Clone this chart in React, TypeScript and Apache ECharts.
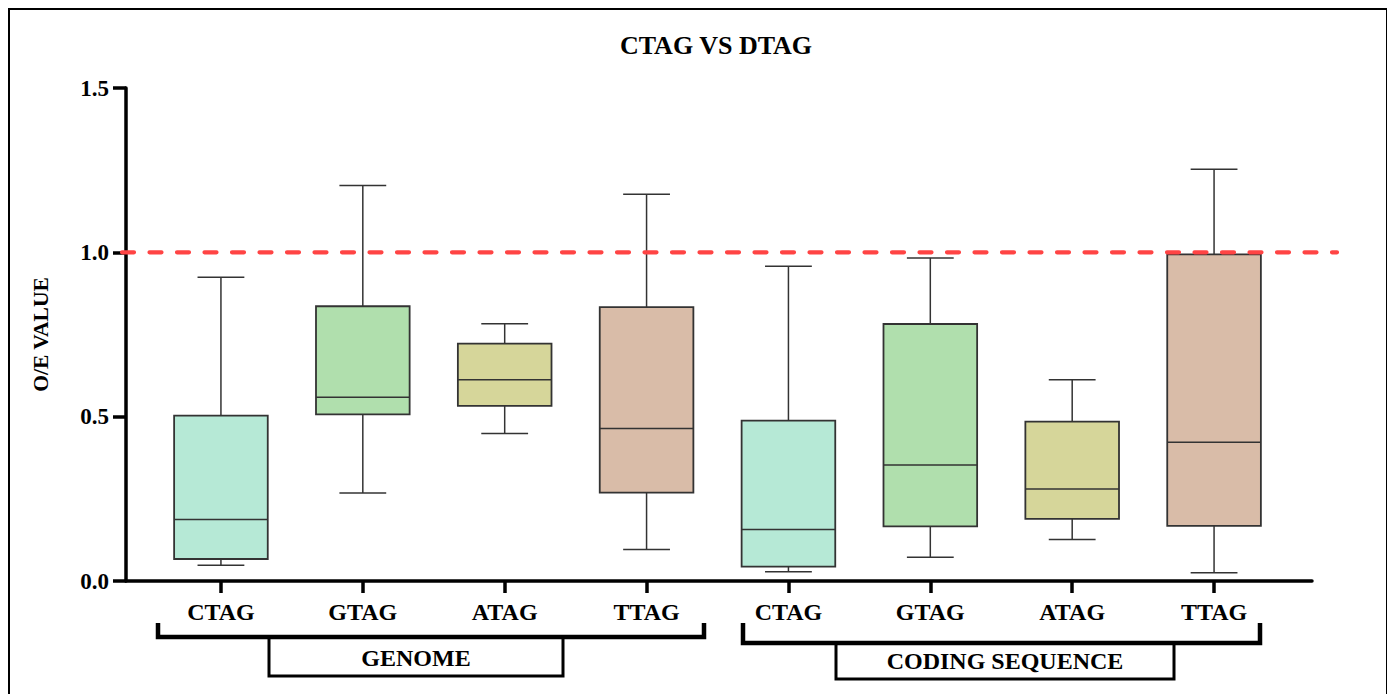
import React, { useEffect, useRef } from "react";
import * as echarts from "echarts";

const categories = ["CTAG", "GTAG", "ATAG", "TTAG", "CTAG", "GTAG", "ATAG", "TTAG"];
const minVals = [0.048, 0.268, 0.449, 0.096, 0.028, 0.072, 0.126, 0.025];
const q1Vals = [0.067, 0.507, 0.533, 0.269, 0.044, 0.166, 0.189, 0.168];
const medianVals = [0.187, 0.559, 0.612, 0.464, 0.157, 0.353, 0.28, 0.422];
const q3Vals = [0.503, 0.836, 0.722, 0.833, 0.488, 0.782, 0.485, 0.994];
const maxVals = [0.924, 1.203, 0.783, 1.177, 0.958, 0.983, 0.612, 1.253];
const boxColors = ["#b6e9d6", "#b0dfad", "#d6d69a", "#d9bca8", "#b6e9d6", "#b0dfad", "#d6d69a", "#d9bca8"];
const yTicks = [0, 0.5, 1.0, 1.5];
const REFERENCE_VALUE = 1.0;
const TITLE = "CTAG VS DTAG";
const Y_NAME = "O/E VALUE";
const GROUP_LABELS = ["GENOME", "CODING SEQUENCE"];

const FONT = '"Liberation Serif", "Times New Roman", serif';

export default function App() {
  const ref = useRef<HTMLDivElement>(null);
  useEffect(() => {
    document.documentElement.style.overflow = "hidden";
    const chart = echarts.init(ref.current!, null, { renderer: "svg" });
    const data = categories.map((_, i) => [i, minVals[i], q1Vals[i], medianVals[i], q3Vals[i], maxVals[i]]);
    const lineColor = "#333";
    const option: any = {
      animation: false,
      grid: [
        { left: 116, top: 78, width: 1186, height: 493 },
        { left: 140, top: 78, width: 1135, height: 493 },
      ],
      xAxis: [
        {
          type: "value", gridIndex: 0, min: 0, max: 1,
          axisLine: { show: true, lineStyle: { color: "#000", width: 3.5 } },
          axisTick: { show: false }, axisLabel: { show: false }, splitLine: { show: false },
        },
        {
          type: "category", gridIndex: 1, data: categories,
          axisLine: { show: false },
          axisTick: { show: true, alignWithLabel: true, length: 12, lineStyle: { color: "#000", width: 3.5 } },
          axisLabel: { color: "#000", fontFamily: FONT, fontWeight: "bold", fontSize: 24, margin: 19 },
          splitLine: { show: false },
        },
      ],
      yAxis: [
        {
          type: "value", gridIndex: 0, min: yTicks[0], max: yTicks[yTicks.length - 1], interval: 0.5,
          axisLine: { show: true, lineStyle: { color: "#000", width: 3.5 } },
          axisTick: { show: true, length: 13, lineStyle: { color: "#000", width: 3.5 } },
          axisLabel: {
            color: "#000", fontFamily: FONT, fontWeight: "bold", fontSize: 23, margin: 17,
            formatter: (v: number) => v.toFixed(1),
          },
          splitLine: { show: false },
          name: Y_NAME, nameLocation: "middle", nameGap: 74, nameRotate: 90,
          nameTextStyle: { color: "#000", fontFamily: FONT, fontWeight: "bold", fontSize: 21.5 },
        },
        {
          type: "value", gridIndex: 1, min: yTicks[0], max: yTicks[yTicks.length - 1], interval: 0.5, show: false,
        },
      ],
      series: [
        {
          type: "custom",
          xAxisIndex: 1,
          yAxisIndex: 1,
          data,
          renderItem: (params: any, api: any) => {
            const idx = api.value(0);
            const pMin = api.coord([idx, api.value(1)]);
            const pQ1 = api.coord([idx, api.value(2)]);
            const pMed = api.coord([idx, api.value(3)]);
            const pQ3 = api.coord([idx, api.value(4)]);
            const pMax = api.coord([idx, api.value(5)]);
            const band = api.size([1, 0])[0];
            const bw = band * 0.66;
            const cw = band * 0.33;
            const x = pMed[0];
            const ls = { stroke: lineColor, lineWidth: 1.5, fill: null };
            return {
              type: "group",
              children: [
                { type: "line", shape: { x1: x, y1: pMax[1], x2: x, y2: pQ3[1] }, style: ls },
                { type: "line", shape: { x1: x, y1: pQ1[1], x2: x, y2: pMin[1] }, style: ls },
                { type: "line", shape: { x1: x - cw / 2, y1: pMax[1], x2: x + cw / 2, y2: pMax[1] }, style: ls },
                { type: "line", shape: { x1: x - cw / 2, y1: pMin[1], x2: x + cw / 2, y2: pMin[1] }, style: ls },
                {
                  type: "rect",
                  shape: { x: x - bw / 2, y: pQ3[1], width: bw, height: pQ1[1] - pQ3[1] },
                  style: { fill: boxColors[params.dataIndex], stroke: lineColor, lineWidth: 1.8 },
                },
                { type: "line", shape: { x1: x - bw / 2, y1: pMed[1], x2: x + bw / 2, y2: pMed[1] }, style: { stroke: lineColor, lineWidth: 1.5 } },
              ],
            };
          },
        },
      ],
    };
    chart.setOption(option);

    const yRef = chart.convertToPixel({ yAxisIndex: 0 }, REFERENCE_VALUE) as number;
    const bracketText = { fontFamily: FONT, fontWeight: "bold", fontSize: 24, fill: "#000", textAlign: "center", textVerticalAlign: "middle" };
    const bl = { stroke: "#000", lineWidth: 4.5 };
    const bx = { stroke: "#000", lineWidth: 3, fill: "#fff" };
    chart.setOption({
      graphic: [
        {
          type: "text", x: 706, y: 35,
          style: { text: TITLE, fontFamily: FONT, fontWeight: "bold", fontSize: 26, fill: "#000", textAlign: "center", textVerticalAlign: "middle" },
        },
        {
          type: "line", z: 100,
          shape: { x1: 112, y1: yRef, x2: 1327, y2: yRef },
          style: { stroke: "#ff4444", lineWidth: 4.2, lineDash: [12, 15.5], lineCap: "round" },
        },
        // GENOME bracket
        { type: "rect", shape: { x: 259, y: 627, width: 294, height: 39 }, style: bx },
        { type: "polyline", shape: { points: [[148, 613], [148, 627], [694, 627], [694, 613]] }, style: { ...bl, fill: null } },
        { type: "text", x: 406, y: 648, style: { ...bracketText, text: GROUP_LABELS[0] } },
        // CODING SEQUENCE bracket
        { type: "rect", shape: { x: 826, y: 633, width: 338, height: 36 }, style: bx },
        { type: "polyline", shape: { points: [[733, 613], [733, 633], [1250, 633], [1250, 613]] }, style: { ...bl, fill: null } },
        { type: "text", x: 995, y: 651, style: { ...bracketText, text: GROUP_LABELS[1] } },
      ],
    });
    return () => chart.dispose();
  }, []);
  return (
    <div style={{ borderTop: "2px solid #000", borderLeft: "2px solid #000", borderRight: "2px solid #000", width: 1376, height: 700 }}>
      <div ref={ref} style={{ width: 1376, height: 700 }} />
    </div>
  );
}
